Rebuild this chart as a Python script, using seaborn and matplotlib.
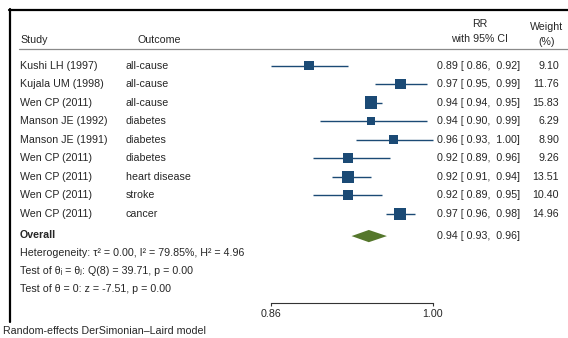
import numpy as np
import pandas as pd
import seaborn as sns
import matplotlib.pyplot as plt
import matplotlib.transforms as mtransforms
from matplotlib.lines import Line2D
from matplotlib.ticker import NullLocator

# data
studies = ['Kushi LH (1997)', 'Kujala UM (1998)', 'Wen CP (2011)', 'Manson JE (1992)',
           'Manson JE (1991)', 'Wen CP (2011)', 'Wen CP (2011)', 'Wen CP (2011)', 'Wen CP (2011)']
outcomes = ['all-cause', 'all-cause', 'all-cause', 'diabetes', 'diabetes',
            'diabetes', 'heart disease', 'stroke', 'cancer']
rr = [0.891, 0.970, 0.944, 0.944, 0.964, 0.924, 0.924, 0.924, 0.970]
lo = [0.860, 0.947, 0.939, 0.900, 0.931, 0.894, 0.910, 0.894, 0.957]
hi = [0.924, 0.994, 0.954, 0.994, 1.000, 0.961, 0.944, 0.954, 0.983]
weight = [9.10, 11.76, 15.83, 6.29, 8.90, 9.26, 13.51, 10.40, 14.96]
overall = (0.942, 0.927, 0.958)
het_text = 'Heterogeneity: τ² = 0.00, I² = 79.85%, H² = 4.96'
q_text = 'Test of θᵢ = θⱼ: Q(8) = 39.71, p = 0.00'
z_text = 'Test of θ = 0: z = -7.51, p = 0.00'
note = 'Random-effects DerSimonian–Laird model'
xticks = [0.86, 1.00]

df = pd.DataFrame({'study': studies, 'outcome': outcomes, 'rr': rr, 'lo': lo,
                   'hi': hi, 'weight': weight, 'row': np.arange(len(studies))})
over_row = len(studies) + 0.2

sns.set_style('white')
plt.rcParams['font.family'] = ['Liberation Sans', 'DejaVu Sans']
plt.rcParams['font.size'] = 7.7

W, H = 568, 338
fig = plt.figure(figsize=(W / 100, H / 100), dpi=100)
ax = fig.add_axes([271 / W, 1 - 303 / H, 162 / W, (303 - 49) / H])

navy = '#1b4a75'
green = '#55772c'

ax.hlines(df['row'], df['lo'], df['hi'], color=navy, lw=1.0, clip_on=False, zorder=2)
sns.scatterplot(data=df, x='rr', y='row', size='weight', sizes=(5.1 * 6.29, 5.1 * 15.83),
                size_norm=(6.29, 15.83), marker='s', color=navy, edgecolor='none',
                legend=False, ax=ax, clip_on=False, zorder=3)
est, olo, ohi = overall
ax.fill([olo, est, ohi, est], [over_row, over_row - 0.33, over_row, over_row + 0.33],
        color=green, lw=0, clip_on=False, zorder=3)

ax.set_xscale('log')
ax.set_xlim(xticks[0], xticks[-1])
ax.set_ylim(12.81, -0.89)
ax.set_xticks(xticks)
ax.set_xticklabels([f'{t:.2f}' for t in xticks])
ax.xaxis.set_minor_locator(NullLocator())
ax.set_yticks([])
ax.set_xlabel('')
ax.set_ylabel('')
for s in ['top', 'left', 'right']:
    ax.spines[s].set_visible(False)
ax.spines['bottom'].set_color('#333333')
ax.spines['bottom'].set_linewidth(0.8)
ax.tick_params(axis='x', bottom=True, length=2.5, width=0.8, color='#333333', pad=2, labelsize=7.7)

# row text, x in figure fraction, y in data rows
tr = mtransforms.blended_transform_factory(fig.transFigure, ax.transData)
for _, r in df.iterrows():
    ax.text(20 / W, r['row'], r['study'], transform=tr, va='center', ha='left')
    ax.text(126 / W, r['row'], r['outcome'], transform=tr, va='center', ha='left')
    ax.text(437 / W, r['row'], f"{r['rr']:.2f} [{r['lo']:5.2f}, {r['hi']:5.2f}]",
            transform=tr, va='center', ha='left')
    ax.text(559 / W, r['row'], f"{r['weight']:.2f}", transform=tr, va='center', ha='right')
ax.text(20 / W, over_row - 0.05, 'Overall', transform=tr, va='center', ha='left', fontweight='bold')
ax.text(437 / W, over_row, f"{est:.2f} [{olo:5.2f}, {ohi:5.2f}]", transform=tr,
        va='center', ha='left')

def fy(p):
    return 1 - p / H

fig.text(20 / W, fy(40), 'Study', va='center', ha='left')
fig.text(137 / W, fy(40), 'Outcome', va='center', ha='left')
fig.text(480 / W, fy(24), 'RR', va='center', ha='center')
fig.text(480 / W, fy(39), 'with 95% CI', va='center', ha='center')
fig.text(547 / W, fy(27), 'Weight', va='center', ha='center')
fig.text(547 / W, fy(42), '(%)', va='center', ha='center')
fig.text(20 / W, fy(253), het_text, va='center', ha='left')
fig.text(20 / W, fy(271), q_text, va='center', ha='left')
fig.text(20 / W, fy(289), z_text, va='center', ha='left')
fig.text(3 / W, fy(331), note, va='center', ha='left')

fig.add_artist(Line2D([19 / W, 1], [fy(49), fy(49)], color='#8a8a8a', lw=0.9))
fig.add_artist(Line2D([9 / W, 1], [fy(10), fy(10)], color='black', lw=1.6))
fig.add_artist(Line2D([10 / W, 10 / W], [fy(9), fy(322)], color='black', lw=1.6))

fig.savefig('out.png', dpi=100, facecolor='white')
